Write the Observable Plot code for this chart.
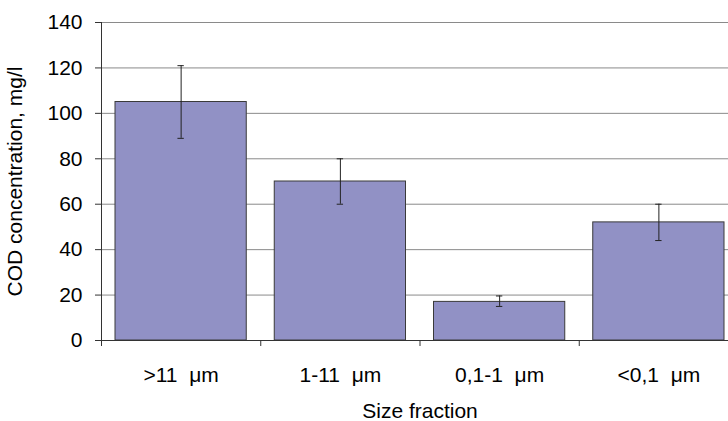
<!DOCTYPE html>
<html>
<head>
<meta charset="utf-8">
<script src="https://cdn.jsdelivr.net/npm/d3@7"></script>
<script src="https://cdn.jsdelivr.net/npm/@observablehq/plot@0.6"></script>
<style>
  html, body { margin: 0; padding: 0; background: #fff; overflow: hidden; }
  #chart svg { display: block; overflow: hidden; }
</style>
</head>
<body>
<div id="chart"></div>
<script>
const categories = [">11\u00a0 \u03bcm", "1-11\u00a0 \u03bcm", "0,1-1\u00a0 \u03bcm", "<0,1\u00a0 \u03bcm"];
const values = [105, 70, 17, 52];
const errLow = [89, 60, 15, 44];
const errHigh = [121, 80, 19.6, 60];
const yTicks = [0, 20, 40, 60, 80, 100, 120, 140];

const data = categories.map((c, i) => ({
  cat: c, i, value: values[i], lo: errLow[i], hi: errHigh[i]
}));
const bounds = d3.range(categories.length + 1);

const font = "'Liberation Sans', Arial, sans-serif";
const fs = 21;

const chart = Plot.plot({
  width: 728,
  height: 421,
  marginLeft: 101,
  marginRight: 0,
  marginTop: 22,
  marginBottom: 81,
  style: { fontFamily: font, fontSize: fs + "px", color: "#000", background: "#fff", overflow: "hidden" },
  x: { type: "linear", domain: [0, categories.length], range: [101, 738] },
  y: { domain: [0, 140] },
  marks: [
    Plot.gridY(yTicks, { stroke: "#8a8a8a", strokeOpacity: 1, strokeWidth: 1 }),
    Plot.rectY(data, {
      x1: d => d.i, x2: d => d.i + 1, y: "value",
      insetLeft: 14, insetRight: 14,
      fill: "#9191c5", stroke: "#3a3a3a", strokeWidth: 1
    }),
    Plot.ruleX(data, { x: d => d.i + 0.5, y1: "lo", y2: "hi", stroke: "#222", strokeWidth: 1 }),
    Plot.ruleY(data, { y: "lo", x1: d => d.i + 0.5 - 0.02, x2: d => d.i + 0.5 + 0.02, stroke: "#222" }),
    Plot.ruleY(data, { y: "hi", x1: d => d.i + 0.5 - 0.02, x2: d => d.i + 0.5 + 0.02, stroke: "#222" }),
    Plot.axisY(yTicks, {
      tickSize: 6, tickPadding: 13, stroke: "#333", fontSize: fs, fill: "#000",
      label: "COD concentration, mg/l", labelAnchor: "center", labelArrow: "none", labelOffset: 94
    }),
    Plot.ruleX([0], { stroke: "#333" }),
    Plot.ruleY([0], { stroke: "#333" }),
    Plot.axisX(bounds, { tickSize: 6, tickFormat: () => "", stroke: "#333", label: null }),
    Plot.text(data, { x: d => d.i + 0.5, y: () => 0, text: "cat", dy: 35, fontSize: fs, fill: "#000" }),
    Plot.text(["Size fraction"], { frameAnchor: "bottom", dy: 77, dx: 5, fontSize: fs, fill: "#000" })
  ]
});
document.getElementById("chart").appendChild(chart);
</script>
</body>
</html>
